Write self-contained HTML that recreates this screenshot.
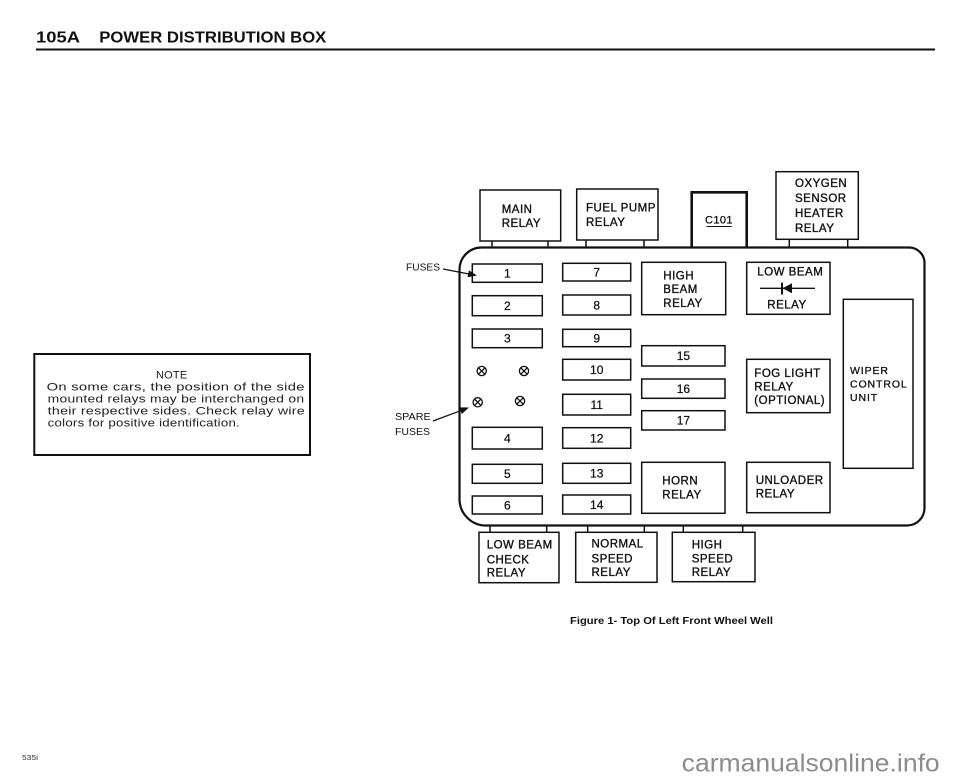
<!DOCTYPE html>
<html><head><meta charset="utf-8">
<style>
html,body{margin:0;padding:0;background:#fff;}
svg{display:block;}
text{font-family:"Liberation Sans",Arial,sans-serif;}
.r{font-size:11.5px;letter-spacing:0.5px;fill:#111;stroke:#111;stroke-width:0.35;}
.w{font-size:10.5px;letter-spacing:0.9px;fill:#111;stroke:#111;stroke-width:0.3;}
.f{font-size:12px;fill:#111;stroke:#111;stroke-width:0.25;text-anchor:middle;}
.n{font-size:11px;fill:#222;letter-spacing:0.2px;}
.b{fill:none;stroke:#111;stroke-width:1.5;}
</style></head><body>
<svg width="960" height="782" viewBox="0 0 960 782" xmlns="http://www.w3.org/2000/svg">
<rect width="960" height="782" fill="#fff"/>

<!-- Title -->
<text x="36" y="42.7" font-size="16" font-weight="bold" fill="#111" textLength="44" lengthAdjust="spacingAndGlyphs">105A</text>
<text x="99.3" y="42.7" font-size="16" font-weight="bold" fill="#111" textLength="227" lengthAdjust="spacingAndGlyphs">POWER DISTRIBUTION BOX</text>
<line x1="36" y1="49.5" x2="935" y2="49.5" stroke="#111" stroke-width="2"/>

<!-- Note box -->
<rect x="34.3" y="354" width="275.7" height="101" fill="none" stroke="#111" stroke-width="2"/>
<text class="n" x="171.7" y="378.3" text-anchor="middle">NOTE</text>
<text class="n" x="46.7" y="390.7" textLength="258" lengthAdjust="spacingAndGlyphs">On some cars, the position of the side</text>
<text class="n" x="47.7" y="402.7" textLength="256.6" lengthAdjust="spacingAndGlyphs">mounted relays may be interchanged on</text>
<text class="n" x="47.7" y="414.7" textLength="257.3" lengthAdjust="spacingAndGlyphs">their respective sides. Check relay wire</text>
<text class="n" x="47.7" y="426.5" textLength="192.3" lengthAdjust="spacingAndGlyphs">colors for positive identification.</text>

<!-- Main box -->
<path d="M482 247.5 L909 247.5 A15.5 15.5 0 0 1 924.5 263 L924.5 508 A17.5 17.5 0 0 1 907 525.5 L486 525.5 A26.5 26.5 0 0 1 459.5 499 L459.5 269.5 A22 22 0 0 1 481.5 247.5 Z" fill="none" stroke="#111" stroke-width="2.2"/>

<!-- Top relays -->
<rect class="b" x="480" y="190" width="80.7" height="51"/>
<line x1="492" y1="241" x2="492" y2="247.5" stroke="#111" stroke-width="1.5"/>
<line x1="548" y1="241" x2="548" y2="247.5" stroke="#111" stroke-width="1.5"/>
<text class="r" x="501.7" y="213">MAIN</text>
<text class="r" x="501.7" y="227">RELAY</text>

<rect class="b" x="576.7" y="189" width="81.3" height="51"/>
<line x1="586" y1="240" x2="586" y2="247.5" stroke="#111" stroke-width="1.5"/>
<line x1="644" y1="240" x2="644" y2="247.5" stroke="#111" stroke-width="1.5"/>
<text class="r" x="586" y="211.5">FUEL PUMP</text>
<text class="r" x="586" y="226">RELAY</text>

<path d="M691.7 247.5 V192.3 H746.7 V247.5" fill="none" stroke="#111" stroke-width="2.6"/>
<text x="719" y="223.5" font-size="11" fill="#111" stroke="#111" stroke-width="0.3" text-anchor="middle" letter-spacing="0.4">C101</text>
<line x1="706.5" y1="226.5" x2="731.7" y2="226.5" stroke="#111" stroke-width="1"/>

<rect class="b" x="776" y="171.7" width="82.3" height="67.6"/>
<line x1="789.3" y1="239.3" x2="789.3" y2="247.5" stroke="#111" stroke-width="1.5"/>
<line x1="847.7" y1="239.3" x2="847.7" y2="247.5" stroke="#111" stroke-width="1.5"/>
<text class="r" x="795" y="187">OXYGEN</text>
<text class="r" x="795" y="202">SENSOR</text>
<text class="r" x="795" y="217">HEATER</text>
<text class="r" x="795" y="232">RELAY</text>

<!-- Fuses column 1 -->
<rect class="b" x="472.3" y="264" width="70" height="18.3"/><text class="f" x="507.3" y="277.5">1</text>
<rect class="b" x="472.3" y="295.7" width="70" height="20"/><text class="f" x="507.3" y="310">2</text>
<rect class="b" x="472.3" y="329" width="70" height="18.7"/><text class="f" x="507.3" y="342.6">3</text>
<rect class="b" x="472.3" y="427.3" width="70" height="21.7"/><text class="f" x="507.3" y="442.4">4</text>
<rect class="b" x="472.3" y="464.3" width="70" height="19"/><text class="f" x="507.3" y="478.1">5</text>
<rect class="b" x="472.3" y="496" width="70" height="18"/><text class="f" x="507.3" y="509.3">6</text>

<!-- Fuses column 2 -->
<rect class="b" x="562.7" y="263.3" width="68" height="17.7"/><text class="f" x="596.7" y="276.5">7</text>
<rect class="b" x="562.7" y="295" width="68" height="20"/><text class="f" x="596.7" y="309.3">8</text>
<rect class="b" x="562.7" y="329.3" width="68" height="17.4"/><text class="f" x="596.7" y="342.3">9</text>
<rect class="b" x="562.7" y="359.3" width="68" height="20.7"/><text class="f" x="596.7" y="374">10</text>
<rect class="b" x="562.7" y="394.3" width="68" height="20.7"/><text class="f" x="596.7" y="409">11</text>
<rect class="b" x="562.7" y="427.7" width="68" height="20.6"/><text class="f" x="596.7" y="442.3">12</text>
<rect class="b" x="562.7" y="463.3" width="68" height="20"/><text class="f" x="596.7" y="477.6">13</text>
<rect class="b" x="562.7" y="495" width="68" height="19"/><text class="f" x="596.7" y="508.8">14</text>

<!-- Fuses column 3 -->
<rect class="b" x="641.7" y="345.7" width="83.3" height="20.3"/><text class="f" x="683.4" y="360.2">15</text>
<rect class="b" x="641.7" y="379" width="83.3" height="19.3"/><text class="f" x="683.4" y="393">16</text>
<rect class="b" x="641.7" y="410.7" width="83.3" height="19.3"/><text class="f" x="683.4" y="424.7">17</text>

<!-- Spare fuses -->
<g fill="none" stroke="#111" stroke-width="1.3">
<circle cx="481.7" cy="371" r="4.6"/><path d="M478.4 367.7 L485 374.3 M485 367.7 L478.4 374.3"/>
<circle cx="524" cy="371" r="4.6"/><path d="M520.7 367.7 L527.3 374.3 M527.3 367.7 L520.7 374.3"/>
<circle cx="477.7" cy="402.3" r="4.6"/><path d="M474.4 399 L481 405.6 M481 399 L474.4 405.6"/>
<circle cx="520" cy="401" r="4.6"/><path d="M516.7 397.7 L523.3 404.3 M523.3 397.7 L516.7 404.3"/>
</g>

<!-- Inner relays -->
<rect class="b" x="641.7" y="262.3" width="84" height="52.4"/>
<text class="r" x="663.3" y="279.5">HIGH</text>
<text class="r" x="663.3" y="293">BEAM</text>
<text class="r" x="663.3" y="307">RELAY</text>

<rect class="b" x="746.7" y="262.3" width="83.3" height="52"/>
<text class="r" x="757.3" y="275.5">LOW BEAM</text>
<line x1="760" y1="288.3" x2="815" y2="288.3" stroke="#111" stroke-width="1.4"/>
<line x1="782" y1="282.7" x2="782" y2="294.5" stroke="#111" stroke-width="2"/>
<polygon points="782.5,288.3 792,283.3 792,293.3" fill="#111"/>
<text class="r" x="767.3" y="308.5">RELAY</text>

<rect class="b" x="746.7" y="359.3" width="83.3" height="53.4"/>
<text class="r" x="754.3" y="377">FOG LIGHT</text>
<text class="r" x="754.3" y="390.5">RELAY</text>
<text class="r" x="754.3" y="404">(OPTIONAL)</text>

<rect class="b" x="843.3" y="299.3" width="69.7" height="169"/>
<text class="w" x="850" y="374">WIPER</text>
<text class="w" x="850" y="387.5">CONTROL</text>
<text class="w" x="850" y="401">UNIT</text>

<rect class="b" x="641.7" y="462.3" width="83.3" height="51"/>
<text class="r" x="662.3" y="484.5">HORN</text>
<text class="r" x="662.3" y="498.5">RELAY</text>

<rect class="b" x="746.7" y="462.3" width="83.3" height="50.4"/>
<text class="r" x="755.7" y="484">UNLOADER</text>
<text class="r" x="755.7" y="497.7">RELAY</text>

<!-- Bottom relays -->
<rect class="b" x="479" y="532.3" width="80" height="50.4"/>
<line x1="490" y1="525.5" x2="490" y2="532.3" stroke="#111" stroke-width="1.5"/>
<line x1="546.7" y1="525.5" x2="546.7" y2="532.3" stroke="#111" stroke-width="1.5"/>
<text class="r" x="486.7" y="548.3">LOW BEAM</text>
<text class="r" x="486.7" y="563.3">CHECK</text>
<text class="r" x="486.7" y="576.7">RELAY</text>

<rect class="b" x="575.7" y="532.3" width="81.3" height="50"/>
<line x1="587.7" y1="525.5" x2="587.7" y2="532.3" stroke="#111" stroke-width="1.5"/>
<line x1="644.3" y1="525.5" x2="644.3" y2="532.3" stroke="#111" stroke-width="1.5"/>
<text class="r" x="591.5" y="547.3">NORMAL</text>
<text class="r" x="591.5" y="562.3">SPEED</text>
<text class="r" x="591.5" y="576">RELAY</text>

<rect class="b" x="672.3" y="532.3" width="82.7" height="49.4"/>
<line x1="683.3" y1="525.5" x2="683.3" y2="532.3" stroke="#111" stroke-width="1.5"/>
<line x1="742.7" y1="525.5" x2="742.7" y2="532.3" stroke="#111" stroke-width="1.5"/>
<text class="r" x="691.7" y="548.3">HIGH</text>
<text class="r" x="691.7" y="562.3">SPEED</text>
<text class="r" x="691.7" y="576">RELAY</text>

<!-- Labels and arrows -->
<text x="406" y="270.5" font-size="10.5" fill="#111" textLength="34" lengthAdjust="spacingAndGlyphs">FUSES</text>
<line x1="443" y1="269" x2="469" y2="274" stroke="#111" stroke-width="1.3"/>
<polygon points="477,275.5 468.9,270.4 467.5,277.2" fill="#111"/>

<text x="395" y="420" font-size="10.5" fill="#111" textLength="35.7" lengthAdjust="spacingAndGlyphs">SPARE</text>
<text x="395" y="435" font-size="10.5" fill="#111" textLength="35" lengthAdjust="spacingAndGlyphs">FUSES</text>
<line x1="433" y1="421" x2="462" y2="410.2" stroke="#111" stroke-width="1.3"/>
<polygon points="469,407.5 461.8,414 459.4,407.4" fill="#111"/>

<!-- Caption -->
<text x="570" y="624" font-size="10.5" font-weight="bold" fill="#111" textLength="203" lengthAdjust="spacingAndGlyphs">Figure 1- Top Of Left Front Wheel Well</text>

<!-- Footer -->
<text x="22" y="760" font-size="7" fill="#333" textLength="16" lengthAdjust="spacingAndGlyphs">535i</text>
<text x="681.7" y="771.7" font-size="25" fill="#8c8c8c" textLength="258" lengthAdjust="spacingAndGlyphs">carmanualsonline.info</text>
</svg>
</body></html>
